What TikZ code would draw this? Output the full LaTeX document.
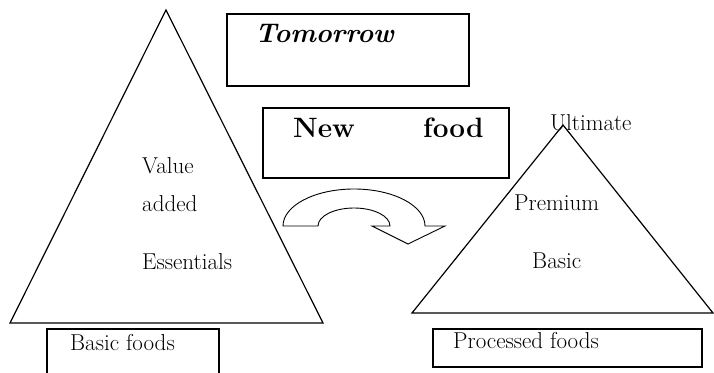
\documentclass[tikz,border=0pt]{standalone}
\usepackage{tikz}
\usetikzlibrary{positioning}

\tikzset{
  tri/.style={draw, line width=1.2pt, line join=miter},
  box/.style={draw, line width=2pt},
  lbl/.style={anchor=base west, inner sep=0pt, font=\fontsize{23}{25}\selectfont},
  big/.style={anchor=base west, inner sep=0pt, font=\fontsize{28}{30}\selectfont\bfseries}
}

\begin{document}
\begin{tikzpicture}[x=1pt, y=-1pt]
\useasboundingbox (0,0) rectangle (714,372);

\coordinate (la) at (166,10);
\coordinate (lb) at (10,323);
\coordinate (lc) at (323,323);
\coordinate (ra) at (563,125);
\coordinate (rb) at (412,313);
\coordinate (rc) at (713,313);
\draw[tri] (la) -- (lb) -- (lc) -- cycle;
\draw[tri] (ra) -- (rb) -- (rc) -- cycle;

\draw[box] (227,14) rectangle (469,86);
\draw[box] (263,108) rectangle (509,178);
\draw[box] (47,329) rectangle (219,380);
\draw[box] (433,329) rectangle (702,367);

\node[big, font=\fontsize{27}{29}\selectfont\bfseries\itshape] (tomorrow) at (255,42) {Tomorrow};
\node[big] (new) at (293,137) {New};
\node[big] (food) at (423,137) {food};

\node[lbl] (value) at (142,173) {Value};
\node[lbl] (added) at (142,211) {added};
\node[lbl] (essentials) at (142,269) {Essentials};
\node[lbl] (basicfoods) at (70,350) {Basic foods};

\node[lbl] (ultimate) at (550,130) {Ultimate};
\node[lbl] (premium) at (514,210) {Premium};
\node[lbl] (basic) at (532,268) {Basic};
\node[lbl] (processed) at (453,348) {Processed foods};

\draw[line width=0.9pt, line join=miter] (283,226)
  arc[start angle=180, end angle=360, x radius=71, y radius=37]
  -- (445,226) -- (408,244) -- (372,226) -- (390,226)
  arc[start angle=0, end angle=-180, x radius=36, y radius=18]
  -- cycle;
\end{tikzpicture}
\end{document}
